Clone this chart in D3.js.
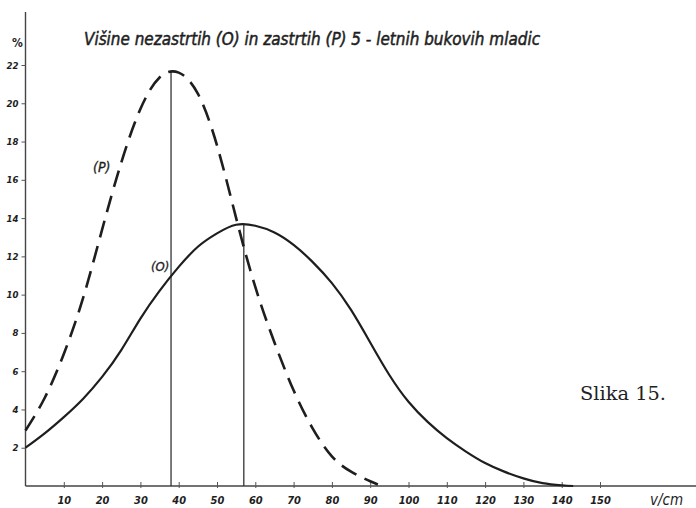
<!DOCTYPE html>
<html>
<head>
<meta charset="utf-8">
<script src="https://cdn.jsdelivr.net/npm/d3@7"></script>
<style>
  html, body { margin: 0; padding: 0; background: #fff; }
  svg { display: block; }
</style>
</head>
<body>
<svg id="chart" width="696" height="508"></svg>
<script>
// ---- data ----
const xTicks = [10, 20, 30, 40, 50, 60, 70, 80, 90, 100, 110, 120, 130, 140, 150];
const yTicks = [2, 4, 6, 8, 10, 12, 14, 16, 18, 20, 22];

// (O) nezastrte mladice - solid
const oHeights = [0, 5, 10, 15, 20, 25, 30, 35, 40, 45, 50, 55, 60, 65, 70, 75, 80, 85, 90, 95, 100, 105, 110, 115, 120, 125, 130, 135, 140, 143];
const oPercent = [2.0, 2.75, 3.6, 4.55, 5.7, 7.1, 8.75, 10.2, 11.45, 12.5, 13.2, 13.65, 13.6, 13.25, 12.6, 11.7, 10.6, 9.2, 7.5, 5.8, 4.4, 3.35, 2.5, 1.8, 1.2, 0.75, 0.4, 0.15, 0.04, 0];

// (P) zastrte mladice - dashed
const pHeights = [0, 5, 10, 15, 20, 25, 30, 35, 40, 45, 50, 55, 60, 65, 70, 75, 80, 85, 90, 92];
const pPercent = [2.9, 4.6, 6.9, 9.8, 13.4, 16.9, 19.7, 21.35, 21.6, 20.5, 17.8, 14.0, 10.4, 7.5, 5.0, 3.0, 1.55, 0.75, 0.25, 0.08];

const peakLines = [{x: 38, y: 21.7}, {x: 57, y: 13.7}];

const titleText = "Višine nezastrtih (O) in zastrtih (P) 5 - letnih bukovih mladic";
const xUnit = "v/cm";
const yUnit = "%";
const figLabel = "Slika  15.";

// ---- layout ----
const svg = d3.select("#chart");
const x = d3.scaleLinear().domain([0, 150]).range([25.5, 600]);
const y = d3.scaleLinear().domain([0, 22]).range([486, 65]);
const ink = "#1e1e1e";
const handFont = "'DejaVu Sans Condensed', 'Liberation Sans Narrow', 'DejaVu Sans', sans-serif";

// axes lines
svg.append("line").attr("x1", x(0)).attr("x2", 696).attr("y1", y(0)).attr("y2", y(0))
  .attr("stroke", "#444").attr("stroke-width", 1.4);
svg.append("line").attr("x1", x(0)).attr("x2", x(0)).attr("y1", 12).attr("y2", y(0))
  .attr("stroke", "#444").attr("stroke-width", 1.4);

// x axis
const xAxis = d3.axisBottom(x).tickValues(xTicks).tickSizeInner(-4).tickSizeOuter(0).tickPadding(10);
const gx = svg.append("g").attr("transform", `translate(0,${y(0)})`).call(xAxis);
gx.select(".domain").remove();
gx.selectAll(".tick line").attr("stroke", "#555").attr("stroke-width", 1).attr("y2", -4).attr("y1", 2);
gx.selectAll(".tick text").attr("fill", ink).attr("font-family", handFont)
  .attr("font-style", "italic").attr("font-weight", "bold").attr("font-size", 11);

// y axis
const yAxis = d3.axisLeft(y).tickValues(yTicks).tickSizeInner(4).tickSizeOuter(0).tickPadding(3);
const gy = svg.append("g").attr("transform", `translate(${x(0)},0)`).call(yAxis);
gy.select(".domain").remove();
gy.selectAll(".tick line").attr("stroke", "#555").attr("stroke-width", 1);
gy.selectAll(".tick text").attr("fill", ink).attr("font-family", handFont)
  .attr("font-style", "italic").attr("font-weight", "bold").attr("font-size", 9.5);

// unit labels
svg.append("text").attr("x", 12).attr("y", 47).text(yUnit)
  .attr("font-family", handFont).attr("font-weight", "bold").attr("font-size", 12).attr("fill", ink);
svg.append("text").attr("x", 650).attr("y", 505).text(xUnit)
  .attr("font-family", handFont).attr("font-style", "italic").attr("font-size", 15).attr("fill", ink);

// title
svg.append("text").attr("x", 84).attr("y", 45).text(titleText)
  .attr("font-family", handFont).attr("font-style", "italic").attr("font-size", 18)
  .attr("textLength", 456).attr("lengthAdjust", "spacingAndGlyphs").attr("fill", ink)
  .attr("stroke", ink).attr("stroke-width", 0.5);

// peak verticals
svg.selectAll("line.peak").data(peakLines).enter().append("line")
  .attr("class", "peak")
  .attr("x1", d => x(d.x)).attr("x2", d => x(d.x))
  .attr("y1", d => y(d.y)).attr("y2", y(0))
  .attr("stroke", "#333").attr("stroke-width", 1.3);

const line = d3.line().x(d => x(d[0])).y(d => y(d[1])).curve(d3.curveNatural);

// O curve
svg.append("path").datum(oHeights.map((h, i) => [h, oPercent[i]]))
  .attr("d", line).attr("fill", "none").attr("stroke", ink).attr("stroke-width", 2.2);

// P curve
svg.append("path").datum(pHeights.map((h, i) => [h, pPercent[i]]))
  .attr("d", line).attr("fill", "none").attr("stroke", ink).attr("stroke-width", 2.6)
  .attr("stroke-dasharray", "17,9");

// curve labels
svg.append("text").attr("x", 93).attr("y", 172).text("(P)")
  .attr("font-family", handFont).attr("font-style", "italic").attr("font-size", 14).attr("fill", ink)
  .attr("stroke", ink).attr("stroke-width", 0.3);
svg.append("text").attr("x", 151).attr("y", 271).text("(O)")
  .attr("font-family", handFont).attr("font-style", "italic").attr("font-size", 13).attr("fill", ink)
  .attr("stroke", ink).attr("stroke-width", 0.3);

// figure label
svg.append("text").attr("x", 580).attr("y", 400).text(figLabel)
  .attr("font-family", "'DejaVu Serif', serif").attr("font-size", 19)
  .attr("textLength", 86).attr("lengthAdjust", "spacingAndGlyphs").attr("fill", "#222");
</script>
</body>
</html>
